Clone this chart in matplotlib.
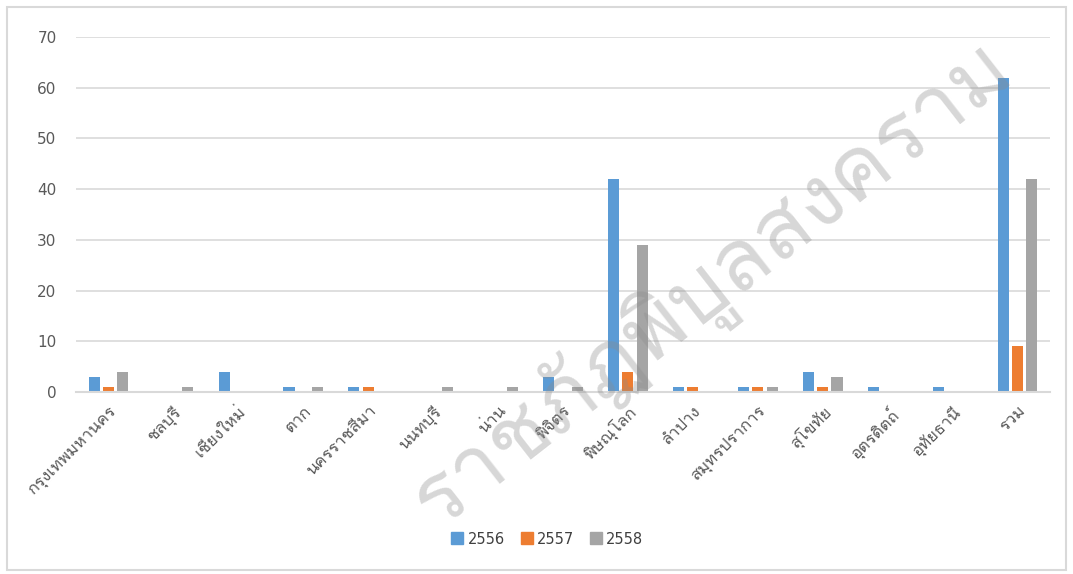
import matplotlib
matplotlib.use("Agg")
import matplotlib.pyplot as plt
import numpy as np
from matplotlib import font_manager
from matplotlib.ft2font import FT2Font
from matplotlib.patches import Rectangle
from matplotlib.lines import Line2D

categories = ["กรุงเทพมหานคร", "ชลบุรี", "เชียงใหม่", "ตาก", "นครราชสีมา", "นนทบุรี",
              "น่าน", "พิจิตร", "พิษณุโลก", "ลำปาง", "สมุทรปราการ", "สุโขทัย",
              "อุตรดิตถ์", "อุทัยธานี", "รวม"]
series_names = ["2556", "2557", "2558"]
v2556 = [3, 0, 4, 1, 1, 0, 0, 3, 42, 1, 1, 4, 1, 1, 62]
v2557 = [1, 0, 0, 0, 1, 0, 0, 0, 4, 1, 1, 1, 0, 0, 9]
v2558 = [4, 1, 0, 1, 0, 1, 1, 1, 29, 0, 1, 3, 0, 0, 42]
y_ticks = [0, 10, 20, 30, 40, 50, 60, 70]
watermark = "ราชภัฏพิบูลสงคราม"

colors = ["#5B9BD5", "#ED7D31", "#A5A5A5"]
text_color = "#595959"
grid_color = "#D9D9D9"

# find a font with Thai glyphs
thai_font = None
for f in font_manager.fontManager.ttflist:
    try:
        ft = FT2Font(f.fname)
        if ft.get_char_index(0x0E01) and ft.get_char_index(0x0E33):
            thai_font = f.name
            if "Sans" in f.name or "Loma" in f.name:
                break
    except Exception:
        pass
fam = [thai_font, "DejaVu Sans"] if thai_font else ["DejaVu Sans"]
plt.rcParams["font.family"] = fam

fig = plt.figure(figsize=(10.73, 5.74), dpi=100)
ax = fig.add_axes([76/1073, 182/574, (1050-76)/1073, (392-37)/574])

x = np.arange(len(categories))
bw = 0.17
step = 0.22
for i, (vals, c, nm) in enumerate(zip([v2556, v2557, v2558], colors, series_names)):
    ax.bar(x + (i - 1) * step, vals, width=bw, color=c, label=nm, zorder=3)

ax.set_xlim(-0.5, len(categories) - 0.5)
ax.set_ylim(0, 70)
ax.set_yticks(y_ticks)
ax.set_yticklabels([str(t) for t in y_ticks], fontsize=11, color=text_color,
                   family="DejaVu Sans")
ax.tick_params(axis="y", length=0, pad=14)
ax.set_xticks(x)
ax.set_xticklabels(categories, rotation=45, ha="right", va="top",
                   rotation_mode="anchor", fontsize=12, color=text_color)
ax.tick_params(axis="x", length=0, pad=8)
ax.grid(axis="y", color=grid_color, linewidth=1.2, zorder=0)
for s in ["top", "right", "left"]:
    ax.spines[s].set_visible(False)
ax.spines["bottom"].set_color(grid_color)
ax.spines["bottom"].set_linewidth(1.5)
ax.spines["bottom"].set_zorder(4)

handles = [Line2D([0], [0], marker="s", linestyle="none", markersize=8.5,
                  markerfacecolor=c, markeredgecolor=c) for c in colors]
fig.legend(handles, series_names, loc="center", bbox_to_anchor=(546/1073, 1 - 539/574),
           ncol=3, frameon=False, handletextpad=0.1, columnspacing=0.9,
           handlelength=1.2, labelcolor="#404040",
           prop={"family": "DejaVu Sans", "size": 10.5})

# outer chart border
fig.patches.append(Rectangle((7/1073, 4/574), (1066-7)/1073, (567-4)/574,
                             transform=fig.transFigure, fill=False,
                             edgecolor=grid_color, linewidth=1.5))

# watermark
fig.text(712/1073, 1 - 285/574, watermark, fontsize=62, color="#8C8C8C",
         alpha=0.35, rotation=38, ha="center", va="center", zorder=10,
         fontweight="light")

fig.savefig("out.png", dpi=100)
